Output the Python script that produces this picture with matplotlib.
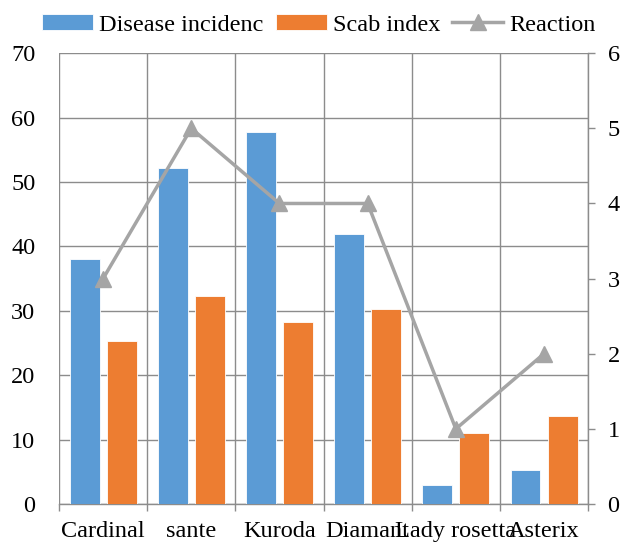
import matplotlib
matplotlib.use("Agg")
import matplotlib.pyplot as plt
import numpy as np

categories = ["Cardinal", "sante", "Kuroda", "Diamant", "Lady rosetta", "Asterix"]
disease_incidence = [38.1, 52.2, 57.7, 42.0, 2.9, 5.3]
scab_index = [25.3, 32.3, 28.3, 30.3, 11.0, 13.7]
reaction = [3, 5, 4, 4, 1, 2]

plt.rcParams['font.family'] = ['Liberation Serif', 'DejaVu Serif']
plt.rcParams['font.size'] = 17.5

fig = plt.figure(figsize=(6.23, 5.43), dpi=100)
ax = fig.add_axes([0.0947, 0.0718, 0.8493, 0.8302])
ax2 = ax.twinx()

grid_c = "#8c8c8c"
x = np.arange(len(categories))
w = 0.34
b1 = ax.bar(x - 0.21, disease_incidence, w, color="#5B9BD5", edgecolor="white", linewidth=0.6, label="Disease incidenc", zorder=3)
b2 = ax.bar(x + 0.21, scab_index, w, color="#ED7D31", edgecolor="white", linewidth=0.6, label="Scab index", zorder=3)
l1, = ax2.plot(x, reaction, color="#A5A5A5", lw=2.5, marker="^", markersize=11, label="Reaction", zorder=4)

ax.set_xlim(-0.5, len(categories) - 0.5)
ax.set_ylim(0, 70)
ax.set_yticks(range(0, 71, 10))
ax2.set_ylim(0, 6)
ax2.set_yticks(range(0, 7))

ax.set_xticks(x)
ax.set_xticklabels(categories)
ax.set_xticks(np.arange(-0.5, len(categories), 1), minor=True)
ax.tick_params(axis='x', which='major', length=0, pad=12)
ax.tick_params(axis='x', which='minor', length=5, color=grid_c, width=1)
ax.tick_params(axis='y', length=0, pad=17)
ax2.tick_params(axis='y', length=5, color=grid_c, width=1, pad=9)

ax.grid(True, which='minor', axis='x', color=grid_c, lw=1, zorder=0)
ax.grid(True, which='major', axis='y', color=grid_c, lw=1, zorder=0)
ax.set_axisbelow(True)
for s in ["top", "left"]:
    ax.spines[s].set_visible(False)
    ax2.spines[s].set_visible(False)
ax.spines["right"].set_visible(False)
ax.spines["bottom"].set_color(grid_c)
ax2.spines["bottom"].set_visible(False)
ax2.spines["right"].set_color(grid_c)
ax.spines["bottom"].set_linewidth(1)
ax2.spines["right"].set_linewidth(1)

fig.legend([b1, b2, l1], ["Disease incidenc", "Scab index", "Reaction"],
           loc="center", bbox_to_anchor=(0.512, 0.954), ncol=3, frameon=False,
           handlelength=2.1, handleheight=0.58, handletextpad=0.25, columnspacing=0.5,
           borderpad=0, fontsize=17.5)

fig.savefig("out.png", dpi=100)
